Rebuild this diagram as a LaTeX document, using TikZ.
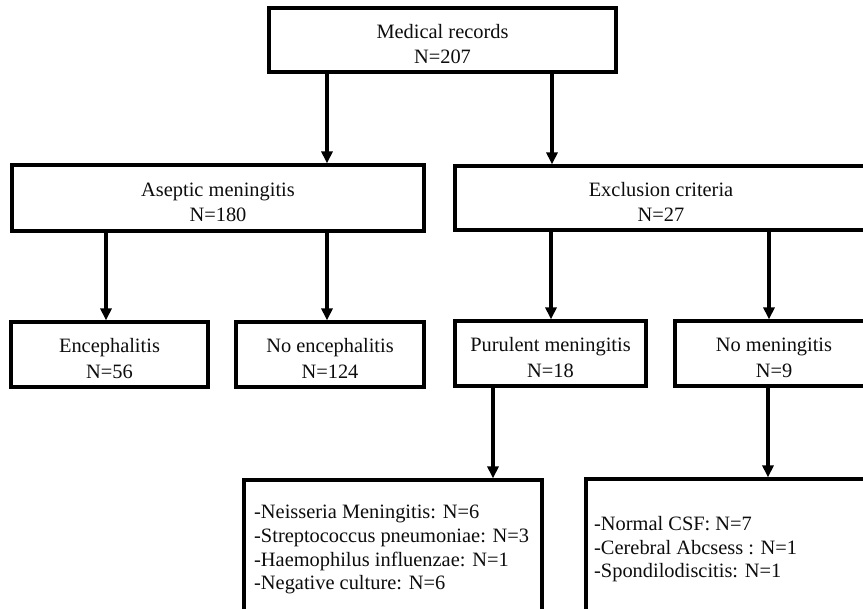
\documentclass[tikz,border=0pt]{standalone}
\usepackage{fontspec}
\setmainfont{Liberation Serif}
\usetikzlibrary{arrows.meta}
\newcommand{\topstrut}{\rule{0pt}{22pt}}
\begin{document}
\begin{tikzpicture}[x=1pt,y=-1pt,
  box/.style={draw=black, line width=3.2pt, rectangle, inner sep=0pt, align=center,
    font=\fontsize{20.4}{25.5}\selectfont, text=black!95},
  listtext/.style={inner sep=0pt, align=left, anchor=north west,
    font=\fontsize{20.4}{23.7}\selectfont, text=black!95},
  arr/.style={draw=black, line width=3.2pt, -{Triangle[width=11pt,length=12pt]}}]
\useasboundingbox (0,0) rectangle (863,609);
\clip (0,0) rectangle (863,609);
\fill[white] (0,0) rectangle (863,609);
% level 1
\node[box, minimum width=347pt, minimum height=64pt] (med) at (442.5,40) {\topstrut Medical records\\N=207};
% level 2
\node[box, minimum width=412pt, minimum height=66pt] (asep) at (218,198) {\topstrut Aseptic meningitis\\N=180};
\node[box, minimum width=412pt, minimum height=64pt] (excl) at (661,198) {\topstrut Exclusion criteria\\N=27};
% level 3
\node[box, minimum width=197pt, minimum height=65pt] (enc) at (109.5,354.5) {\topstrut Encephalitis\\N=56};
\node[box, minimum width=188pt, minimum height=65pt] (noenc) at (330,354.5) {\topstrut No encephalitis\\N=124};
\node[box, minimum width=191pt, minimum height=65pt] (pur) at (550.5,353.5) {\topstrut Purulent meningitis\\N=18};
\node[box, minimum width=198pt, minimum height=65pt] (nomen) at (774,353.5) {\topstrut No meningitis\\N=9};
% level 4
\node[box, minimum width=298pt, minimum height=160pt] (bl) at (393,560) {};
\node[box, minimum width=314pt, minimum height=160pt] (br) at (743,559) {};
\node[listtext] (bltext) at (254,505.1) {-Neisseria Meningitis: N=6\\-Streptococcus pneumoniae: N=3\\-Haemophilus influenzae: N=1\\-Negative culture: N=6};
\node[listtext] (brtext) at (594,516.1) {-Normal CSF: N=7\\-Cerebral Abcsess : N=1\\-Spondilodiscitis: N=1};
% arrow x positions
\coordinate (xa) at (327,0);
\coordinate (xb) at (552,0);
\coordinate (xc) at (106,0);
\coordinate (xd) at (327,0);
\coordinate (xe) at (551,0);
\coordinate (xf) at (769,0);
\coordinate (xg) at (493,0);
\coordinate (xh) at (768,0);
% connectors
\draw[arr] (med.south -| xa) -- (asep.north -| xa);
\draw[arr] (med.south -| xb) -- (excl.north -| xb);
\draw[arr] (asep.south -| xc) -- (enc.north -| xc);
\draw[arr] (asep.south -| xd) -- (noenc.north -| xd);
\draw[arr] (excl.south -| xe) -- (pur.north -| xe);
\draw[arr] (excl.south -| xf) -- (nomen.north -| xf);
\draw[arr] (pur.south -| xg) -- (bl.north -| xg);
\draw[arr] (nomen.south -| xh) -- (br.north -| xh);
\end{tikzpicture}
\end{document}
